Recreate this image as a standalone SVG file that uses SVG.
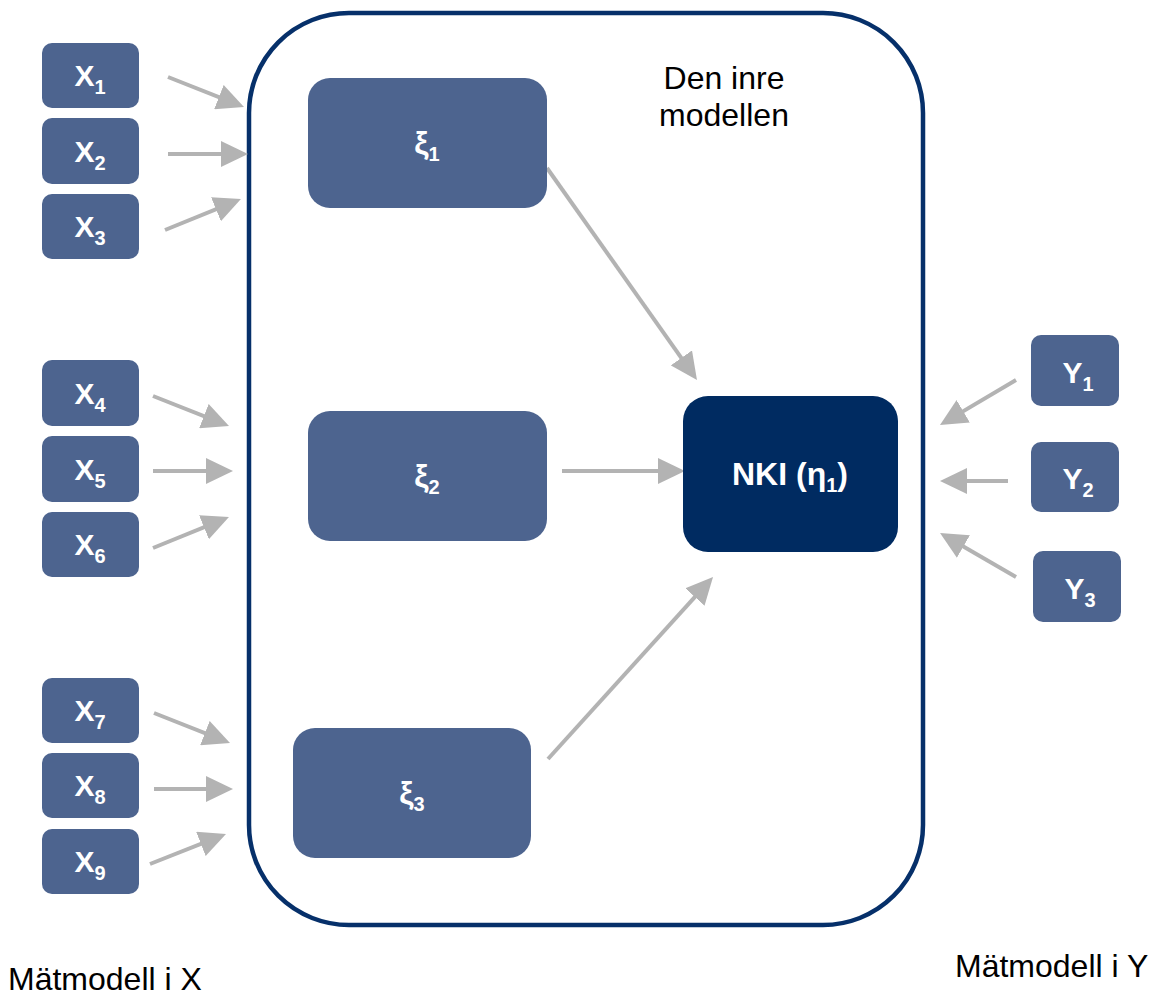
<svg xmlns="http://www.w3.org/2000/svg" width="1161" height="997" viewBox="0 0 1161 997">
<defs>
<style>
.n{fill:#4D648F;}
.k{fill:#002B61;}
.lbl{font-family:"Liberation Sans",Arial,sans-serif;font-weight:bold;font-size:30px;fill:#FFFFFF;text-anchor:middle;}
.xi{font-size:32px;}
.sub{font-size:20px;}
.t{font-family:"Liberation Sans",Arial,sans-serif;font-size:32px;fill:#000000;}
.c{stroke:#B3B3B3;stroke-width:4;fill:none;marker-end:url(#ah);}
</style>
<marker id="ah" markerUnits="userSpaceOnUse" markerWidth="27" markerHeight="26" viewBox="0 0 27 26" refX="17" refY="13" orient="auto">
<path d="M0,0 L27,13 L0,26 Z" fill="#B3B3B3"/>
</marker>
</defs>
<rect width="1161" height="997" fill="#FFFFFF"/>

<g id="container">
<rect x="249" y="13" width="674" height="912" rx="100" ry="100" fill="none" stroke="#06306A" stroke-width="4.5"/>
<text class="t" x="724" y="89" text-anchor="middle">Den inre</text>
<text class="t" x="724" y="126" text-anchor="middle">modellen</text>
</g>

<g id="connectors">
<line class="c" x1="168" y1="77" x2="234.7" y2="103.3"/>
<line class="c" x1="168" y1="154" x2="238" y2="154"/>
<line class="c" x1="165" y1="230" x2="231.7" y2="202.8"/>
<line class="c" x1="153" y1="396" x2="219.7" y2="422.3"/>
<line class="c" x1="153" y1="471" x2="223" y2="471"/>
<line class="c" x1="153" y1="548" x2="219.7" y2="520.8"/>
<line class="c" x1="154" y1="713" x2="220.7" y2="739.3"/>
<line class="c" x1="154" y1="789" x2="223" y2="789"/>
<line class="c" x1="150" y1="864" x2="216.7" y2="837.7"/>
<line class="c" x1="547" y1="168" x2="691.2" y2="371.8"/>
<line class="c" x1="562" y1="471" x2="675" y2="471"/>
<line class="c" x1="548" y1="759" x2="706.3" y2="584.4"/>
<line class="c" x1="1016" y1="380" x2="948.6" y2="419.9"/>
<line class="c" x1="1008" y1="481" x2="950" y2="481"/>
<line class="c" x1="1016" y1="577" x2="948.7" y2="538"/>
</g>

<g id="x1"><rect class="n" x="42" y="43" width="97" height="65" rx="10"/><text class="lbl" x="90" y="86">X<tspan class="sub" dy="8">1</tspan></text></g>
<g id="x2"><rect class="n" x="42" y="118" width="97" height="66" rx="10"/><text class="lbl" x="90" y="162">X<tspan class="sub" dy="8">2</tspan></text></g>
<g id="x3"><rect class="n" x="42" y="194" width="97" height="65" rx="10"/><text class="lbl" x="90" y="237">X<tspan class="sub" dy="8">3</tspan></text></g>
<g id="x4"><rect class="n" x="42" y="360" width="97" height="66" rx="10"/><text class="lbl" x="90" y="404">X<tspan class="sub" dy="8">4</tspan></text></g>
<g id="x5"><rect class="n" x="42" y="436" width="97" height="66" rx="10"/><text class="lbl" x="90" y="480">X<tspan class="sub" dy="8">5</tspan></text></g>
<g id="x6"><rect class="n" x="42" y="512" width="97" height="65" rx="10"/><text class="lbl" x="90" y="555">X<tspan class="sub" dy="8">6</tspan></text></g>
<g id="x7"><rect class="n" x="42" y="678" width="97" height="65" rx="10"/><text class="lbl" x="90" y="721">X<tspan class="sub" dy="8">7</tspan></text></g>
<g id="x8"><rect class="n" x="42" y="753" width="97" height="65" rx="10"/><text class="lbl" x="90" y="796">X<tspan class="sub" dy="8">8</tspan></text></g>
<g id="x9"><rect class="n" x="42" y="829" width="97" height="65" rx="10"/><text class="lbl" x="90" y="872">X<tspan class="sub" dy="8">9</tspan></text></g>

<g id="xi1"><rect class="n" x="308" y="78" width="239" height="130" rx="22"/><text class="lbl xi" x="427" y="154">ξ<tspan class="sub" dy="7">1</tspan></text></g>
<g id="xi2"><rect class="n" x="308" y="411" width="239" height="130" rx="22"/><text class="lbl xi" x="427" y="487">ξ<tspan class="sub" dy="7">2</tspan></text></g>
<g id="xi3"><rect class="n" x="293" y="728" width="238" height="130" rx="22"/><text class="lbl xi" x="412" y="804">ξ<tspan class="sub" dy="7">3</tspan></text></g>

<g id="nki"><rect class="k" x="683" y="396" width="215" height="156" rx="25"/><text class="lbl" x="790" y="485" style="font-size:32px">NKI (η<tspan class="sub" dy="7">1</tspan><tspan dy="-7">)</tspan></text></g>

<g id="y1"><rect class="n" x="1031" y="335" width="88" height="71" rx="10"/><text class="lbl" x="1078" y="383">Y<tspan class="sub" dy="8">1</tspan></text></g>
<g id="y2"><rect class="n" x="1031" y="442" width="88" height="70" rx="10"/><text class="lbl" x="1078" y="489">Y<tspan class="sub" dy="8">2</tspan></text></g>
<g id="y3"><rect class="n" x="1033" y="551" width="88" height="71" rx="10"/><text class="lbl" x="1080" y="599">Y<tspan class="sub" dy="8">3</tspan></text></g>

<g id="labels">
<text class="t" x="8" y="990">Mätmodell i X</text>
<text class="t" x="955" y="977">Mätmodell i Y</text>
</g>
</svg>
